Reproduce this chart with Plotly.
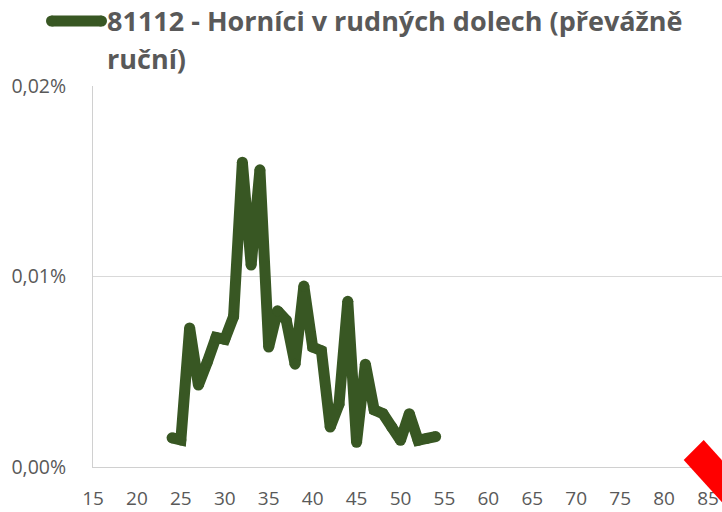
import plotly.graph_objects as go

# Data (age vs. share in %)
ages = list(range(24, 55))
values = [0.00153, 0.00142, 0.0073, 0.0043, 0.0055, 0.0068, 0.0067, 0.0079,
          0.0160, 0.0106, 0.0156, 0.0063, 0.0082, 0.0077, 0.0054, 0.0095,
          0.0063, 0.0061, 0.0021, 0.0033, 0.0087, 0.0013, 0.0054, 0.0030,
          0.0028, 0.0021, 0.0014, 0.0028, 0.0014, 0.0015, 0.0016]
series_name = "81112 - Horníci v rudných dolech (převážně ruční)"
legend_line1 = "81112 - Horníci v rudných dolech (převážně"
legend_line2 = "ruční)"
x_ticks = list(range(15, 90, 5))
y_ticks = [0.0, 0.01, 0.02]
y_ticktext = ["0,00%", "0,01%", "0,02%"]

GREEN = "#385723"
GREY = "#595959"
W, H = 722, 512
L, R, T, B = 93, 0, 86, 45
pw, ph = W - L - R, H - T - B
LW = 11

fig = go.Figure()
fig.add_trace(go.Scatter(
    x=ages, y=values, mode="lines+markers", name=series_name,
    line=dict(color=GREEN, width=LW),
    marker=dict(color=GREEN, size=LW, line=dict(width=0)),
    showlegend=False))

def px2x(p):
    return (p - L) / pw

def py2y(p):
    return (H - B - p) / ph

# legend sample (pill)
x0, x1, yc, r = 51.5, 101.5, 21, 5.5
shapes = [
    dict(type="line", xref="paper", yref="paper", x0=px2x(x0), x1=px2x(x1),
         y0=py2y(yc), y1=py2y(yc), line=dict(color=GREEN, width=11)),
]
for cx in (x0, x1):
    shapes.append(dict(type="circle", xref="paper", yref="paper",
                       x0=px2x(cx - r), x1=px2x(cx + r),
                       y0=py2y(yc + r), y1=py2y(yc - r),
                       fillcolor=GREEN, line=dict(width=0)))

# red decorative bar at bottom-right corner (rotated rectangle)
corners_px = [(683.7, 460), (703.7, 440), (770.7, 514), (750.7, 534)]
path = "M " + " L ".join("%.4f,%.4f" % (px2x(a), py2y(b)) for a, b in corners_px) + " Z"
shapes.append(dict(type="path", xref="paper", yref="paper", path=path,
                   fillcolor="#ff0000", line=dict(width=0), layer="above"))

font_title = dict(family="Open Sans", size=27, color=GREY)
annotations = [
    dict(text="<b>%s</b>" % legend_line1, xref="paper", yref="paper",
         x=px2x(105), y=py2y(20), xanchor="left", yanchor="middle",
         showarrow=False, font=font_title),
    dict(text="<b>%s</b>" % legend_line2, xref="paper", yref="paper",
         x=px2x(105), y=py2y(59), xanchor="left", yanchor="middle",
         showarrow=False, font=font_title),
]

fig.update_layout(
    width=W, height=H,
    margin=dict(l=L, r=R, t=T, b=B, pad=0),
    paper_bgcolor="white", plot_bgcolor="white",
    separators=", ",
    shapes=shapes, annotations=annotations,
    font=dict(family="Open Sans", size=19, color=GREY),
)
fig.update_xaxes(
    range=[15, 15 + pw / ((708 - 93) / 70)],
    tickvals=x_ticks, ticktext=[str(v) for v in x_ticks],
    showgrid=False, zeroline=False,
    showline=True, linecolor="#d0d0d0", linewidth=1,
    ticks="", ticklabelstandoff=14,
    tickfont=dict(family="Open Sans", size=19, color=GREY),
)
fig.update_yaxes(
    range=[0, 0.02],
    tickvals=y_ticks, ticktext=y_ticktext,
    showgrid=True, gridcolor="#d9d9d9", gridwidth=1,
    zeroline=False,
    showline=True, linecolor="#d0d0d0", linewidth=1,
    ticks="", ticklabelstandoff=22,
    tickfont=dict(family="Open Sans", size=19.5, color=GREY),
)

fig.write_html("out.html", config={"displayModeBar": False},
               post_script="document.body.style.margin='0';document.body.style.overflow='hidden';")
